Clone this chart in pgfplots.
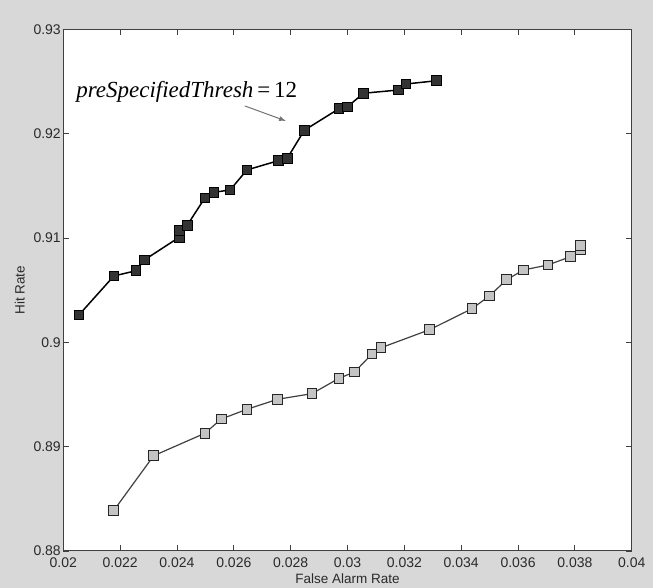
\documentclass[border=0pt]{standalone}
\usepackage{fontspec}
\setmainfont{Liberation Sans}
\newfontfamily\timesf{Liberation Serif}
\usepackage{pgfplots}
\pgfplotsset{compat=1.18}
\usetikzlibrary{arrows.meta}

\definecolor{figbg}{HTML}{D8D8D8}
\definecolor{darkfill}{HTML}{333333}
\definecolor{lightfill}{HTML}{C4C4C4}
\definecolor{txt}{HTML}{2A2A2A}

\begin{document}
\begin{tikzpicture}[x=1pt,y=1pt]
\fill[figbg] (0,0) rectangle (653,588);
\useasboundingbox (0,0) rectangle (653,588);
\begin{axis}[
    at={(63.3pt,37pt)}, anchor=south west,
    scale only axis,
    width=568.4pt, height=521.7pt,
    xmin=0.02, xmax=0.04, ymin=0.88, ymax=0.93,
    scaled x ticks=false, scaled y ticks=false,
    axis background/.style={fill=white},
    axis line style={black!75, line width=1pt},
    xtick={0.02,0.022,...,0.0401},
    xticklabels={0.02,0.022,0.024,0.026,0.028,0.03,0.032,0.034,0.036,0.038,0.04},
    ytick={0.88,0.89,0.9,0.91,0.92,0.93},
    yticklabels={0.88,0.89,0.9,0.91,0.92,0.93},
    tick align=inside,
    major tick length=6pt,
    tick style={black!75, line width=0.8pt},
    ticklabel style={font=\fontsize{14}{16}\selectfont, text=txt},
    xticklabel style={yshift=-3pt},
    yticklabel style={xshift=1pt},
    xlabel={False Alarm Rate},
    ylabel={Hit Rate},
    label style={font=\fontsize{13.5}{15}\selectfont, text=txt},
    xlabel style={yshift=1pt},
    ylabel style={yshift=2pt},
    clip=false,
]
\addplot[black, line width=1.5pt, mark=square*, mark size=4.8pt,
    mark options={fill=darkfill, draw=black, line width=1pt}] coordinates {
(0.02055,0.90262)
(0.02178,0.90636)
(0.02256,0.90686)
(0.02285,0.90789)
(0.02408,0.91007)
(0.02408,0.91070)
(0.02436,0.91122)
(0.02498,0.91383)
(0.02530,0.91438)
(0.02587,0.91460)
(0.02646,0.91652)
(0.02757,0.91741)
(0.02788,0.91764)
(0.02848,0.92032)
(0.02970,0.92239)
(0.02999,0.92255)
(0.03056,0.92387)
(0.03179,0.92418)
(0.03206,0.92476)
(0.03314,0.92507)
};
\addplot[black!75, line width=1.2pt, mark=square*, mark size=4.8pt,
    mark options={fill=lightfill, draw=black!85, line width=1pt}] coordinates {
(0.02177,0.88386)
(0.02318,0.88913)
(0.02498,0.89128)
(0.02556,0.89265)
(0.02646,0.89358)
(0.02754,0.89454)
(0.02875,0.89508)
(0.02970,0.89655)
(0.03025,0.89716)
(0.03086,0.89888)
(0.03118,0.89948)
(0.03289,0.90121)
(0.03438,0.90322)
(0.03499,0.90444)
(0.03560,0.90600)
(0.03619,0.90693)
(0.03705,0.90741)
(0.03785,0.90821)
(0.03819,0.90892)
(0.03819,0.90930)
};
\node[anchor=west, inner sep=0pt, font=\timesf\fontsize{23}{25}\selectfont]
    at (axis cs:0.02045,0.9240) {\textit{preSpecifiedThresh}\,=\,12};
\draw[black!55, line width=1pt, -{Latex[length=7pt,width=5pt]}]
    (axis cs:0.02639,0.92265) -- (axis cs:0.02784,0.92121);
\end{axis}
\end{tikzpicture}
\end{document}
